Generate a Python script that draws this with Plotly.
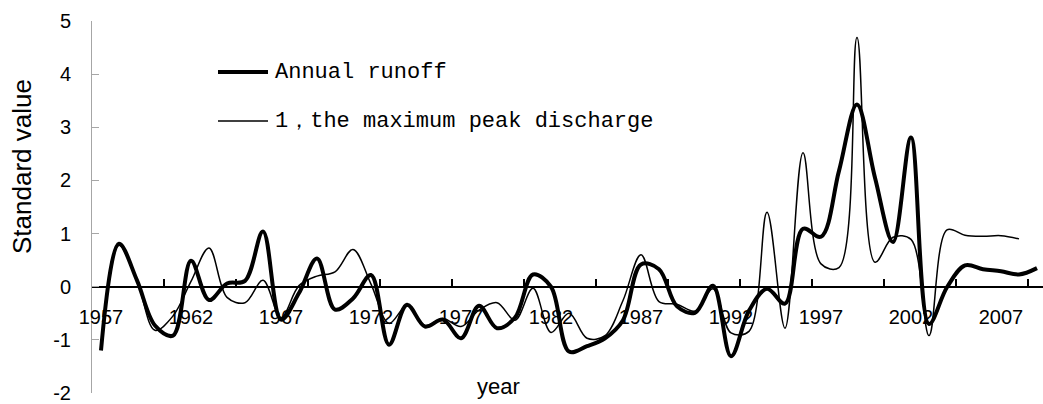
import plotly.graph_objects as go

# Standardised annual series, 1957-2009
years = list(range(1957, 2010))

annual_runoff = [
    -1.20, 0.81, 0.12, -0.73, -0.92, 0.49, -0.25, 0.06, 0.11, 1.04,
    -0.62, -0.12, 0.53, -0.43, -0.22, 0.22, -1.09, -0.34, -0.75, -0.62,
    -0.97, -0.36, -0.78, -0.58, 0.23, 0.00, -1.22, -1.12, -0.97, -0.63,
    0.42, 0.33, -0.37, -0.49, 0.02, -1.31, -0.45, -0.04, -0.32, 1.09,
    0.94, 2.18, 3.43, 2.05, 0.84, 2.81, -0.70, -0.01, 0.40, 0.33,
    0.29, 0.23, 0.35,
]

# Maximum peak discharge, 1957-2008
peak_discharge = [
    -1.15, 0.78, 0.12, -0.82, -0.55, 0.10, 0.73, -0.20, -0.30, 0.12,
    -0.58, 0.02, 0.20, 0.28, 0.70, 0.05, -0.69, -0.36, -0.73, -0.60,
    -0.75, -0.44, -0.30, -0.63, -0.03, -0.86, -0.50, -0.97, -0.92, -0.26,
    0.60, -0.28, -0.33, -0.46, -0.04, -0.87, -0.84, 1.40, -0.78, 2.52,
    0.43, 0.36, 4.69, 0.46, 0.93, 0.89, -0.92, 1.07, 0.97, 0.95,
    0.96, 0.90,
]

label_years = [1957, 1962, 1967, 1972, 1977, 1982, 1987, 1992, 1997, 2002, 2007]
y_ticks = [-2, -1, 0, 1, 2, 3, 4, 5]

series_names = ["Annual runoff", "1，the maximum peak discharge"]

W, H = 1043, 404
L, T, B = 92, 21, 11
X0 = years[0] - 0.5
YEAR_PX = 18.0
X1 = X0 + (W - L) / YEAR_PX
Y_MIN, Y_MAX = -2, 5


def px_x(px):
    return (px - L) / (W - L)


def px_y(py):
    return (H - B - py) / (H - B - T)


def value_frac(v):
    return (v - Y_MIN) / (Y_MAX - Y_MIN)


fig = go.Figure()
fig.add_trace(go.Scatter(
    x=years, y=annual_runoff, mode="lines", name=series_names[0],
    line=dict(color="black", width=4, shape="spline"),
    xaxis="x", yaxis="y", showlegend=False,
))
fig.add_trace(go.Scatter(
    x=years[:len(peak_discharge)], y=peak_discharge, mode="lines", name=series_names[1],
    line=dict(color="black", width=1.5, shape="spline"),
    xaxis="x", yaxis="y", showlegend=False,
))

# Tick marks sit on category boundaries every four years
boundaries = [X0 + 4 * k for k in range(int((X1 - X0) // 4) + 1)]

font_axis = "Arial, Liberation Sans, sans-serif"

fig.update_layout(
    width=W, height=H,
    margin=dict(l=L, r=0, t=T, b=B),
    paper_bgcolor="white", plot_bgcolor="white",
    xaxis=dict(
        range=[X0, X1], anchor="free", position=px_y(303),
        showline=False, showgrid=False, zeroline=False, ticks="",
        tickmode="array", tickvals=label_years, ticktext=[str(y) for y in label_years],
        tickfont=dict(family=font_axis, size=20, color="black"),
    ),
    xaxis2=dict(
        range=[X0, X1], matches="x", overlaying="x", anchor="free",
        position=value_frac(0),
        showline=True, linecolor="black", linewidth=2,
        showgrid=False, zeroline=False,
        ticks="inside", ticklen=7, tickwidth=1.5, tickcolor="black",
        tickmode="array", tickvals=boundaries, showticklabels=False,
    ),
    yaxis=dict(
        range=[Y_MIN, Y_MAX], showline=True, linecolor="#a6a6a6", linewidth=1,
        showgrid=False, zeroline=False,
        ticks="inside", ticklen=7, tickcolor="#a6a6a6", tickwidth=1,
        tickmode="array", tickvals=y_ticks, ticktext=[str(v) for v in y_ticks],
        tickfont=dict(family=font_axis, size=20, color="black"),
        ticklabelstandoff=16,
    ),
    showlegend=False,
)

# Invisible trace so the tick-mark axis is rendered
fig.add_trace(go.Scatter(x=[X0], y=[0], xaxis="x2", yaxis="y", mode="markers",
                         marker=dict(opacity=0), hoverinfo="skip", showlegend=False))

# Legend drawn inside the plot area
legend_font = dict(family="Liberation Mono, Courier New, monospace", size=22, color="black")
legend_rows = [(72, 4), (121, 1.5)]
shapes = []
annotations = []
for name, (ry, lw) in zip(series_names, legend_rows):
    shapes.append(dict(type="line", xref="paper", yref="paper",
                       x0=px_x(218), x1=px_x(268), y0=px_y(ry), y1=px_y(ry),
                       line=dict(color="black", width=lw)))
    annotations.append(dict(text=name, xref="paper", yref="paper",
                            x=px_x(273), y=px_y(ry), xanchor="left", yanchor="middle",
                            showarrow=False, font=legend_font))

# Axis titles
annotations.append(dict(text="Standard value", xref="paper", yref="paper",
                        x=px_x(22), y=px_y(167), xanchor="center", yanchor="middle",
                        textangle=-90, showarrow=False,
                        font=dict(family=font_axis, size=26, color="black")))
annotations.append(dict(text="year", xref="paper", yref="paper",
                        x=px_x(498), y=px_y(386), xanchor="center", yanchor="middle",
                        showarrow=False,
                        font=dict(family=font_axis, size=22, color="black")))

fig.update_layout(shapes=shapes, annotations=annotations)

fig.write_html("out.html")
